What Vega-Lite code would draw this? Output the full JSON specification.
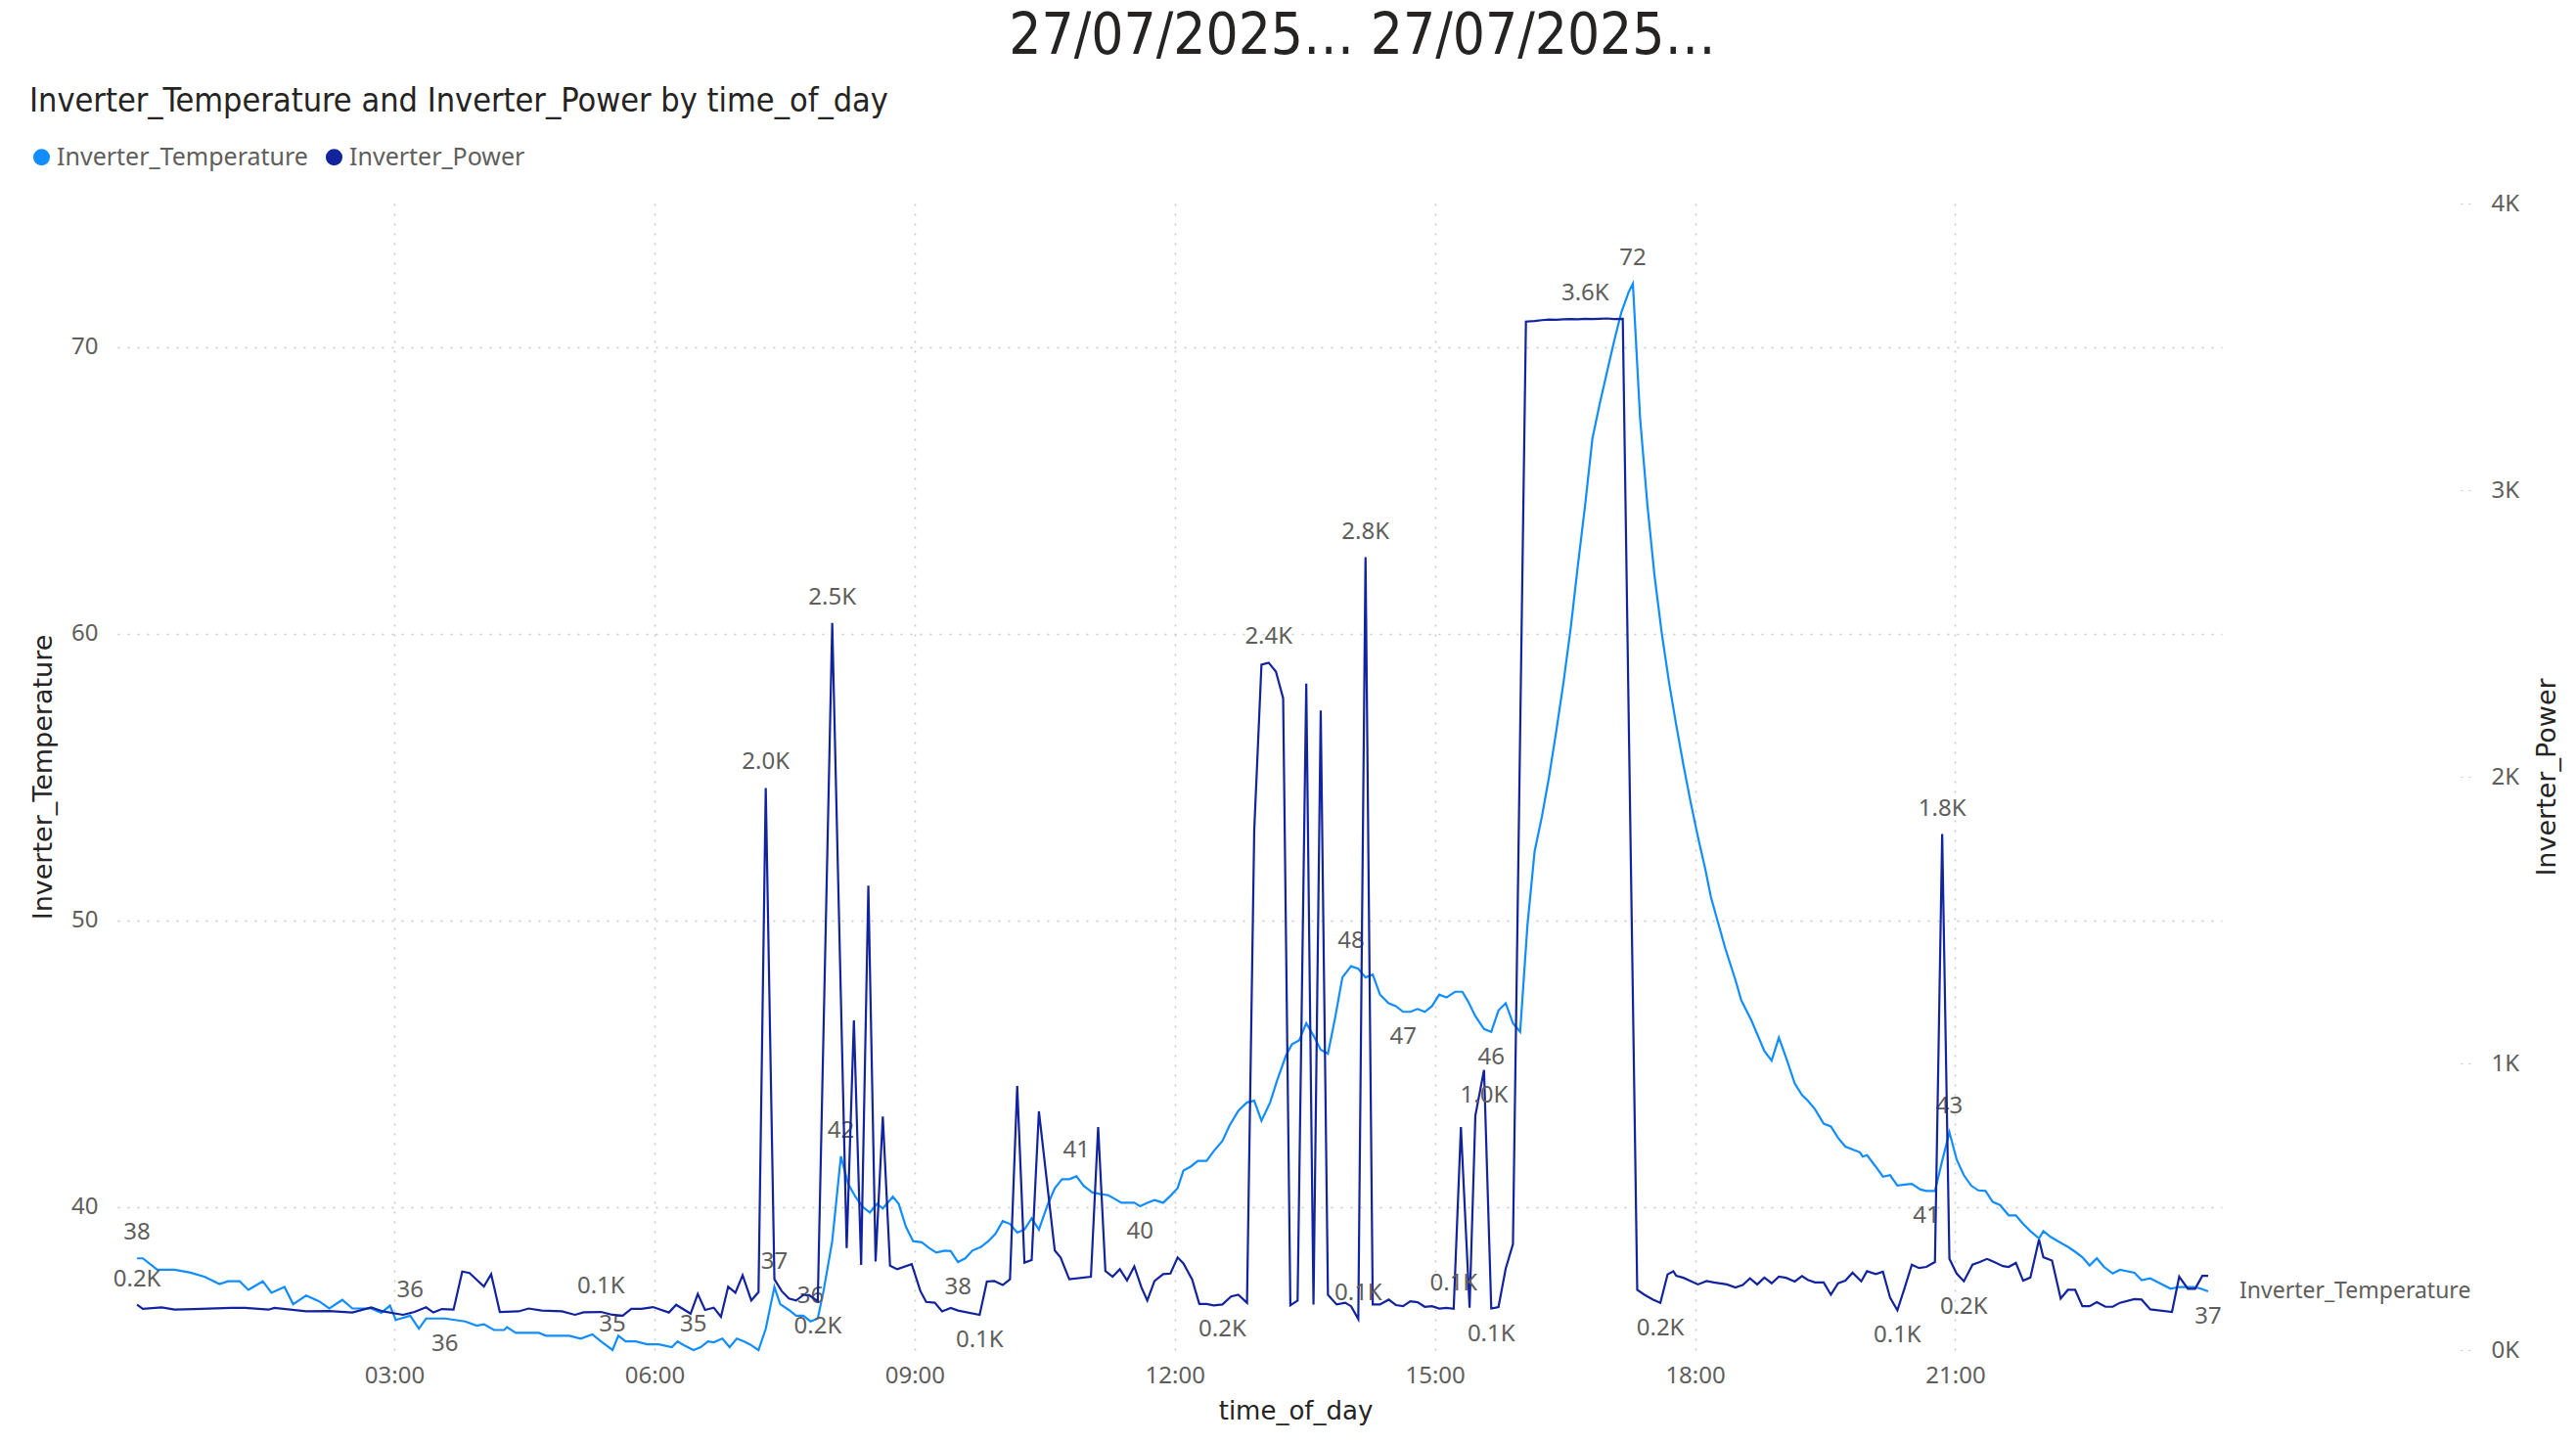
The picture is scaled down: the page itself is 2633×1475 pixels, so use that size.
{
  "$schema": "https://vega.github.io/schema/vega-lite/v6.json",
  "width": 2151,
  "height": 1172,
  "autosize": {"type": "none"},
  "padding": {"left": 120, "top": 208, "right": 362, "bottom": 95},
  "background": "white",
  "title": {
    "text": "27/07/2025… 27/07/2025…",
    "anchor": "middle",
    "frame": "group",
    "dx": 197,
    "offset": 0,
    "dy": -20,
    "font": "DejaVu Sans Condensed",
    "fontSize": 58,
    "fontWeight": "normal",
    "color": "#252423"
  },
  "config": {
    "view": {"stroke": null},
    "axis": {
      "domain": false,
      "ticks": false,
      "labelFont": "Noto Sans",
      "labelFontSize": 24,
      "labelColor": "#605E5C",
      "titleFont": "DejaVu Sans",
      "titleFontSize": 27,
      "titleFontWeight": "normal",
      "titleColor": "#252423",
      "gridColor": "#C8C8C8",
      "gridDash": [2, 8],
      "gridWidth": 1.5
    },
    "text": {"font": "Noto Sans", "fontSize": 24, "fill": "#605E5C"}
  },
  "datasets": {
    "temp": [
      {"t": "2025-07-27T00:02", "v": 38.2, "label": "38"},
      {"t": "2025-07-27T00:06", "v": 38.2},
      {"t": "2025-07-27T00:16", "v": 37.8},
      {"t": "2025-07-27T00:28", "v": 37.8},
      {"t": "2025-07-27T00:39", "v": 37.7},
      {"t": "2025-07-27T00:49", "v": 37.55},
      {"t": "2025-07-27T00:59", "v": 37.3},
      {"t": "2025-07-27T01:05", "v": 37.4},
      {"t": "2025-07-27T01:13", "v": 37.4},
      {"t": "2025-07-27T01:19", "v": 37.1},
      {"t": "2025-07-27T01:29", "v": 37.4},
      {"t": "2025-07-27T01:35", "v": 37.0},
      {"t": "2025-07-27T01:44", "v": 37.2},
      {"t": "2025-07-27T01:50", "v": 36.6},
      {"t": "2025-07-27T01:59", "v": 36.9},
      {"t": "2025-07-27T02:08", "v": 36.7},
      {"t": "2025-07-27T02:15", "v": 36.45},
      {"t": "2025-07-27T02:24", "v": 36.75},
      {"t": "2025-07-27T02:31", "v": 36.45},
      {"t": "2025-07-27T02:44", "v": 36.45},
      {"t": "2025-07-27T02:51", "v": 36.3},
      {"t": "2025-07-27T02:57", "v": 36.55},
      {"t": "2025-07-27T03:01", "v": 36.05},
      {"t": "2025-07-27T03:11", "v": 36.2, "label": "36"},
      {"t": "2025-07-27T03:17", "v": 35.75},
      {"t": "2025-07-27T03:22", "v": 36.1},
      {"t": "2025-07-27T03:35", "v": 36.1, "label": "36"},
      {"t": "2025-07-27T03:49", "v": 36.0},
      {"t": "2025-07-27T03:57", "v": 35.85},
      {"t": "2025-07-27T04:02", "v": 35.9},
      {"t": "2025-07-27T04:09", "v": 35.7},
      {"t": "2025-07-27T04:16", "v": 35.7},
      {"t": "2025-07-27T04:18", "v": 35.8},
      {"t": "2025-07-27T04:24", "v": 35.6},
      {"t": "2025-07-27T04:40", "v": 35.6},
      {"t": "2025-07-27T04:45", "v": 35.5},
      {"t": "2025-07-27T05:01", "v": 35.5},
      {"t": "2025-07-27T05:09", "v": 35.4},
      {"t": "2025-07-27T05:17", "v": 35.55},
      {"t": "2025-07-27T05:23", "v": 35.3},
      {"t": "2025-07-27T05:31", "v": 35.0, "label": "35"},
      {"t": "2025-07-27T05:35", "v": 35.5},
      {"t": "2025-07-27T05:40", "v": 35.3},
      {"t": "2025-07-27T05:47", "v": 35.3},
      {"t": "2025-07-27T05:55", "v": 35.2},
      {"t": "2025-07-27T06:03", "v": 35.2},
      {"t": "2025-07-27T06:12", "v": 35.1},
      {"t": "2025-07-27T06:16", "v": 35.3},
      {"t": "2025-07-27T06:21", "v": 35.15},
      {"t": "2025-07-27T06:27", "v": 35.0, "label": "35"},
      {"t": "2025-07-27T06:32", "v": 35.1},
      {"t": "2025-07-27T06:37", "v": 35.3},
      {"t": "2025-07-27T06:41", "v": 35.27},
      {"t": "2025-07-27T06:47", "v": 35.4},
      {"t": "2025-07-27T06:52", "v": 35.1},
      {"t": "2025-07-27T06:57", "v": 35.4},
      {"t": "2025-07-27T07:02", "v": 35.3},
      {"t": "2025-07-27T07:06", "v": 35.2},
      {"t": "2025-07-27T07:12", "v": 35.0},
      {"t": "2025-07-27T07:17", "v": 35.74},
      {"t": "2025-07-27T07:23", "v": 37.2, "label": "37"},
      {"t": "2025-07-27T07:27", "v": 36.6},
      {"t": "2025-07-27T07:33", "v": 36.4},
      {"t": "2025-07-27T07:38", "v": 36.2},
      {"t": "2025-07-27T07:43", "v": 36.2},
      {"t": "2025-07-27T07:48", "v": 36.0, "label": "36"},
      {"t": "2025-07-27T07:53", "v": 36.1},
      {"t": "2025-07-27T07:57", "v": 37.06},
      {"t": "2025-07-27T08:03", "v": 38.8},
      {"t": "2025-07-27T08:09", "v": 41.76, "label": "42"},
      {"t": "2025-07-27T08:14", "v": 40.8},
      {"t": "2025-07-27T08:19", "v": 40.35},
      {"t": "2025-07-27T08:24", "v": 40.0},
      {"t": "2025-07-27T08:29", "v": 39.8},
      {"t": "2025-07-27T08:34", "v": 40.1},
      {"t": "2025-07-27T08:38", "v": 39.94},
      {"t": "2025-07-27T08:45", "v": 40.35},
      {"t": "2025-07-27T08:49", "v": 40.1},
      {"t": "2025-07-27T08:54", "v": 39.3},
      {"t": "2025-07-27T08:59", "v": 38.8},
      {"t": "2025-07-27T09:05", "v": 38.76},
      {"t": "2025-07-27T09:10", "v": 38.56},
      {"t": "2025-07-27T09:15", "v": 38.4},
      {"t": "2025-07-27T09:21", "v": 38.47},
      {"t": "2025-07-27T09:25", "v": 38.45},
      {"t": "2025-07-27T09:30", "v": 38.07, "label": "38"},
      {"t": "2025-07-27T09:35", "v": 38.2},
      {"t": "2025-07-27T09:40", "v": 38.47},
      {"t": "2025-07-27T09:46", "v": 38.6},
      {"t": "2025-07-27T09:51", "v": 38.8},
      {"t": "2025-07-27T09:56", "v": 39.06},
      {"t": "2025-07-27T10:01", "v": 39.5},
      {"t": "2025-07-27T10:06", "v": 39.4},
      {"t": "2025-07-27T10:11", "v": 39.1},
      {"t": "2025-07-27T10:16", "v": 39.2},
      {"t": "2025-07-27T10:21", "v": 39.6},
      {"t": "2025-07-27T10:26", "v": 39.2},
      {"t": "2025-07-27T10:32", "v": 40.06},
      {"t": "2025-07-27T10:37", "v": 40.65},
      {"t": "2025-07-27T10:42", "v": 40.96},
      {"t": "2025-07-27T10:47", "v": 40.96},
      {"t": "2025-07-27T10:52", "v": 41.06, "label": "41"},
      {"t": "2025-07-27T10:57", "v": 40.73},
      {"t": "2025-07-27T11:03", "v": 40.5},
      {"t": "2025-07-27T11:08", "v": 40.45},
      {"t": "2025-07-27T11:14", "v": 40.4},
      {"t": "2025-07-27T11:19", "v": 40.26},
      {"t": "2025-07-27T11:23", "v": 40.14},
      {"t": "2025-07-27T11:32", "v": 40.14},
      {"t": "2025-07-27T11:36", "v": 40.02, "label": "40"},
      {"t": "2025-07-27T11:41", "v": 40.14},
      {"t": "2025-07-27T11:46", "v": 40.23},
      {"t": "2025-07-27T11:52", "v": 40.14},
      {"t": "2025-07-27T11:57", "v": 40.38},
      {"t": "2025-07-27T12:02", "v": 40.65},
      {"t": "2025-07-27T12:06", "v": 41.26},
      {"t": "2025-07-27T12:11", "v": 41.4},
      {"t": "2025-07-27T12:16", "v": 41.6},
      {"t": "2025-07-27T12:22", "v": 41.6},
      {"t": "2025-07-27T12:27", "v": 41.94},
      {"t": "2025-07-27T12:33", "v": 42.3},
      {"t": "2025-07-27T12:38", "v": 42.84},
      {"t": "2025-07-27T12:44", "v": 43.35},
      {"t": "2025-07-27T12:50", "v": 43.64},
      {"t": "2025-07-27T12:55", "v": 43.7},
      {"t": "2025-07-27T13:00", "v": 43.0},
      {"t": "2025-07-27T13:06", "v": 43.64},
      {"t": "2025-07-27T13:11", "v": 44.43},
      {"t": "2025-07-27T13:17", "v": 45.28},
      {"t": "2025-07-27T13:21", "v": 45.66},
      {"t": "2025-07-27T13:26", "v": 45.8},
      {"t": "2025-07-27T13:31", "v": 46.4},
      {"t": "2025-07-27T13:36", "v": 45.97},
      {"t": "2025-07-27T13:41", "v": 45.48},
      {"t": "2025-07-27T13:46", "v": 45.34},
      {"t": "2025-07-27T13:51", "v": 46.6},
      {"t": "2025-07-27T13:56", "v": 48.0},
      {"t": "2025-07-27T14:02", "v": 48.39, "label": "48"},
      {"t": "2025-07-27T14:07", "v": 48.3},
      {"t": "2025-07-27T14:12", "v": 48.0},
      {"t": "2025-07-27T14:17", "v": 48.1},
      {"t": "2025-07-27T14:22", "v": 47.4},
      {"t": "2025-07-27T14:28", "v": 47.1},
      {"t": "2025-07-27T14:33", "v": 47.0},
      {"t": "2025-07-27T14:38", "v": 46.8, "label": "47"},
      {"t": "2025-07-27T14:43", "v": 46.8},
      {"t": "2025-07-27T14:48", "v": 46.9},
      {"t": "2025-07-27T14:53", "v": 46.8},
      {"t": "2025-07-27T14:58", "v": 47.0},
      {"t": "2025-07-27T15:03", "v": 47.4},
      {"t": "2025-07-27T15:08", "v": 47.3},
      {"t": "2025-07-27T15:14", "v": 47.5},
      {"t": "2025-07-27T15:19", "v": 47.5},
      {"t": "2025-07-27T15:23", "v": 47.16},
      {"t": "2025-07-27T15:28", "v": 46.65},
      {"t": "2025-07-27T15:34", "v": 46.2},
      {"t": "2025-07-27T15:39", "v": 46.1, "label": "46"},
      {"t": "2025-07-27T15:44", "v": 46.85},
      {"t": "2025-07-27T15:49", "v": 47.1},
      {"t": "2025-07-27T15:54", "v": 46.4},
      {"t": "2025-07-27T15:59", "v": 46.1},
      {"t": "2025-07-27T16:04", "v": 49.8},
      {"t": "2025-07-27T16:09", "v": 52.4},
      {"t": "2025-07-27T16:14", "v": 53.6},
      {"t": "2025-07-27T16:19", "v": 55.0},
      {"t": "2025-07-27T16:24", "v": 56.6},
      {"t": "2025-07-27T16:29", "v": 58.3},
      {"t": "2025-07-27T16:34", "v": 60.2},
      {"t": "2025-07-27T16:39", "v": 62.4},
      {"t": "2025-07-27T16:44", "v": 64.5},
      {"t": "2025-07-27T16:49", "v": 66.8},
      {"t": "2025-07-27T16:54", "v": 68.0},
      {"t": "2025-07-27T16:59", "v": 69.1},
      {"t": "2025-07-27T17:04", "v": 70.2},
      {"t": "2025-07-27T17:09", "v": 71.2},
      {"t": "2025-07-27T17:14", "v": 71.9},
      {"t": "2025-07-27T17:17", "v": 72.2, "label": "72"},
      {"t": "2025-07-27T17:22", "v": 67.5},
      {"t": "2025-07-27T17:27", "v": 64.5},
      {"t": "2025-07-27T17:32", "v": 62.0},
      {"t": "2025-07-27T17:37", "v": 60.0},
      {"t": "2025-07-27T17:42", "v": 58.3},
      {"t": "2025-07-27T17:47", "v": 56.8},
      {"t": "2025-07-27T17:52", "v": 55.4},
      {"t": "2025-07-27T17:57", "v": 54.1},
      {"t": "2025-07-27T18:02", "v": 52.9},
      {"t": "2025-07-27T18:07", "v": 51.8},
      {"t": "2025-07-27T18:11", "v": 50.8},
      {"t": "2025-07-27T18:16", "v": 49.9},
      {"t": "2025-07-27T18:21", "v": 49.0},
      {"t": "2025-07-27T18:28", "v": 47.9},
      {"t": "2025-07-27T18:32", "v": 47.2},
      {"t": "2025-07-27T18:39", "v": 46.5},
      {"t": "2025-07-27T18:48", "v": 45.43},
      {"t": "2025-07-27T18:53", "v": 45.1},
      {"t": "2025-07-27T18:58", "v": 45.9},
      {"t": "2025-07-27T19:03", "v": 45.2},
      {"t": "2025-07-27T19:09", "v": 44.3},
      {"t": "2025-07-27T19:14", "v": 43.9},
      {"t": "2025-07-27T19:18", "v": 43.7},
      {"t": "2025-07-27T19:23", "v": 43.4},
      {"t": "2025-07-27T19:29", "v": 42.9},
      {"t": "2025-07-27T19:34", "v": 42.8},
      {"t": "2025-07-27T19:39", "v": 42.4},
      {"t": "2025-07-27T19:44", "v": 42.1},
      {"t": "2025-07-27T19:49", "v": 42.0},
      {"t": "2025-07-27T19:54", "v": 41.9},
      {"t": "2025-07-27T19:56", "v": 41.75},
      {"t": "2025-07-27T19:59", "v": 41.8},
      {"t": "2025-07-27T20:05", "v": 41.4},
      {"t": "2025-07-27T20:10", "v": 41.05},
      {"t": "2025-07-27T20:15", "v": 41.1},
      {"t": "2025-07-27T20:20", "v": 40.74},
      {"t": "2025-07-27T20:25", "v": 40.77},
      {"t": "2025-07-27T20:30", "v": 40.8},
      {"t": "2025-07-27T20:36", "v": 40.6},
      {"t": "2025-07-27T20:40", "v": 40.55, "label": "41"},
      {"t": "2025-07-27T20:46", "v": 40.55},
      {"t": "2025-07-27T20:51", "v": 41.6},
      {"t": "2025-07-27T20:56", "v": 42.6, "label": "43"},
      {"t": "2025-07-27T21:01", "v": 41.65},
      {"t": "2025-07-27T21:06", "v": 41.1},
      {"t": "2025-07-27T21:11", "v": 40.74},
      {"t": "2025-07-27T21:16", "v": 40.57},
      {"t": "2025-07-27T21:21", "v": 40.55},
      {"t": "2025-07-27T21:26", "v": 40.17},
      {"t": "2025-07-27T21:31", "v": 40.06},
      {"t": "2025-07-27T21:37", "v": 39.7},
      {"t": "2025-07-27T21:42", "v": 39.7},
      {"t": "2025-07-27T21:47", "v": 39.4},
      {"t": "2025-07-27T21:52", "v": 39.15},
      {"t": "2025-07-27T21:58", "v": 38.9},
      {"t": "2025-07-27T22:01", "v": 39.15},
      {"t": "2025-07-27T22:06", "v": 38.95},
      {"t": "2025-07-27T22:12", "v": 38.77},
      {"t": "2025-07-27T22:18", "v": 38.6},
      {"t": "2025-07-27T22:23", "v": 38.43},
      {"t": "2025-07-27T22:28", "v": 38.24},
      {"t": "2025-07-27T22:33", "v": 37.95},
      {"t": "2025-07-27T22:38", "v": 38.2},
      {"t": "2025-07-27T22:43", "v": 37.9},
      {"t": "2025-07-27T22:49", "v": 37.67},
      {"t": "2025-07-27T22:54", "v": 37.8},
      {"t": "2025-07-27T23:04", "v": 37.7},
      {"t": "2025-07-27T23:09", "v": 37.44},
      {"t": "2025-07-27T23:15", "v": 37.5},
      {"t": "2025-07-27T23:19", "v": 37.4},
      {"t": "2025-07-27T23:24", "v": 37.27},
      {"t": "2025-07-27T23:29", "v": 37.14},
      {"t": "2025-07-27T23:35", "v": 37.2},
      {"t": "2025-07-27T23:45", "v": 37.2},
      {"t": "2025-07-27T23:50", "v": 37.14},
      {"t": "2025-07-27T23:55", "v": 37.05, "label": "37"}
    ],
    "power": [
      {"t": "2025-07-27T00:02", "v": 158, "label": "0.2K"},
      {"t": "2025-07-27T00:06", "v": 144},
      {"t": "2025-07-27T00:19", "v": 149},
      {"t": "2025-07-27T00:28", "v": 141},
      {"t": "2025-07-27T00:41", "v": 143},
      {"t": "2025-07-27T01:07", "v": 147},
      {"t": "2025-07-27T01:17", "v": 147},
      {"t": "2025-07-27T01:33", "v": 141},
      {"t": "2025-07-27T01:37", "v": 147},
      {"t": "2025-07-27T01:59", "v": 135},
      {"t": "2025-07-27T02:15", "v": 136},
      {"t": "2025-07-27T02:31", "v": 131},
      {"t": "2025-07-27T02:44", "v": 149},
      {"t": "2025-07-27T02:52", "v": 135},
      {"t": "2025-07-27T03:06", "v": 123},
      {"t": "2025-07-27T03:14", "v": 133},
      {"t": "2025-07-27T03:22", "v": 149},
      {"t": "2025-07-27T03:27", "v": 131},
      {"t": "2025-07-27T03:33", "v": 143},
      {"t": "2025-07-27T03:41", "v": 141},
      {"t": "2025-07-27T03:47", "v": 274},
      {"t": "2025-07-27T03:52", "v": 269},
      {"t": "2025-07-27T04:02", "v": 222},
      {"t": "2025-07-27T04:07", "v": 265},
      {"t": "2025-07-27T04:13", "v": 133},
      {"t": "2025-07-27T04:26", "v": 135},
      {"t": "2025-07-27T04:33", "v": 145},
      {"t": "2025-07-27T04:42", "v": 138},
      {"t": "2025-07-27T04:56", "v": 135},
      {"t": "2025-07-27T05:05", "v": 123},
      {"t": "2025-07-27T05:11", "v": 132},
      {"t": "2025-07-27T05:23", "v": 133, "label": "0.1K"},
      {"t": "2025-07-27T05:31", "v": 123},
      {"t": "2025-07-27T05:38", "v": 120},
      {"t": "2025-07-27T05:44", "v": 144},
      {"t": "2025-07-27T05:51", "v": 144},
      {"t": "2025-07-27T05:59", "v": 150},
      {"t": "2025-07-27T06:10", "v": 131},
      {"t": "2025-07-27T06:15", "v": 158},
      {"t": "2025-07-27T06:25", "v": 127},
      {"t": "2025-07-27T06:30", "v": 196},
      {"t": "2025-07-27T06:35", "v": 140},
      {"t": "2025-07-27T06:41", "v": 148},
      {"t": "2025-07-27T06:46", "v": 116},
      {"t": "2025-07-27T06:51", "v": 221},
      {"t": "2025-07-27T06:56", "v": 200},
      {"t": "2025-07-27T07:01", "v": 261},
      {"t": "2025-07-27T07:07", "v": 173},
      {"t": "2025-07-27T07:12", "v": 202},
      {"t": "2025-07-27T07:17", "v": 1961, "label": "2.0K"},
      {"t": "2025-07-27T07:23", "v": 247},
      {"t": "2025-07-27T07:28", "v": 206},
      {"t": "2025-07-27T07:33", "v": 180},
      {"t": "2025-07-27T07:38", "v": 173},
      {"t": "2025-07-27T07:43", "v": 192},
      {"t": "2025-07-27T07:47", "v": 192},
      {"t": "2025-07-27T07:53", "v": 170, "label": "0.2K"},
      {"t": "2025-07-27T08:03", "v": 2537, "label": "2.5K"},
      {"t": "2025-07-27T08:13", "v": 356},
      {"t": "2025-07-27T08:18", "v": 1150},
      {"t": "2025-07-27T08:23", "v": 297},
      {"t": "2025-07-27T08:28", "v": 1620},
      {"t": "2025-07-27T08:33", "v": 309},
      {"t": "2025-07-27T08:38", "v": 815},
      {"t": "2025-07-27T08:43", "v": 294},
      {"t": "2025-07-27T08:48", "v": 282},
      {"t": "2025-07-27T08:58", "v": 300},
      {"t": "2025-07-27T09:04", "v": 206},
      {"t": "2025-07-27T09:08", "v": 168},
      {"t": "2025-07-27T09:14", "v": 165},
      {"t": "2025-07-27T09:19", "v": 135},
      {"t": "2025-07-27T09:25", "v": 147},
      {"t": "2025-07-27T09:30", "v": 138},
      {"t": "2025-07-27T09:45", "v": 123, "label": "0.1K"},
      {"t": "2025-07-27T09:50", "v": 239},
      {"t": "2025-07-27T09:55", "v": 241},
      {"t": "2025-07-27T10:01", "v": 227},
      {"t": "2025-07-27T10:06", "v": 247},
      {"t": "2025-07-27T10:11", "v": 921},
      {"t": "2025-07-27T10:16", "v": 305},
      {"t": "2025-07-27T10:21", "v": 314},
      {"t": "2025-07-27T10:26", "v": 833},
      {"t": "2025-07-27T10:37", "v": 347},
      {"t": "2025-07-27T10:41", "v": 323},
      {"t": "2025-07-27T10:47", "v": 247},
      {"t": "2025-07-27T11:02", "v": 256},
      {"t": "2025-07-27T11:07", "v": 778},
      {"t": "2025-07-27T11:12", "v": 276},
      {"t": "2025-07-27T11:17", "v": 256},
      {"t": "2025-07-27T11:22", "v": 282},
      {"t": "2025-07-27T11:27", "v": 243},
      {"t": "2025-07-27T11:32", "v": 292},
      {"t": "2025-07-27T11:37", "v": 218},
      {"t": "2025-07-27T11:41", "v": 173},
      {"t": "2025-07-27T11:46", "v": 241},
      {"t": "2025-07-27T11:52", "v": 265},
      {"t": "2025-07-27T11:57", "v": 267},
      {"t": "2025-07-27T12:02", "v": 323},
      {"t": "2025-07-27T12:06", "v": 302},
      {"t": "2025-07-27T12:12", "v": 247},
      {"t": "2025-07-27T12:17", "v": 161},
      {"t": "2025-07-27T12:22", "v": 161},
      {"t": "2025-07-27T12:27", "v": 156},
      {"t": "2025-07-27T12:33", "v": 159, "label": "0.2K"},
      {"t": "2025-07-27T12:39", "v": 187},
      {"t": "2025-07-27T12:44", "v": 193},
      {"t": "2025-07-27T12:50", "v": 165},
      {"t": "2025-07-27T12:55", "v": 1814},
      {"t": "2025-07-27T13:00", "v": 2391},
      {"t": "2025-07-27T13:05", "v": 2398, "label": "2.4K"},
      {"t": "2025-07-27T13:10", "v": 2367},
      {"t": "2025-07-27T13:15", "v": 2274},
      {"t": "2025-07-27T13:20", "v": 156},
      {"t": "2025-07-27T13:25", "v": 173},
      {"t": "2025-07-27T13:31", "v": 2325},
      {"t": "2025-07-27T13:36", "v": 159},
      {"t": "2025-07-27T13:41", "v": 2231},
      {"t": "2025-07-27T13:46", "v": 193},
      {"t": "2025-07-27T13:52", "v": 159},
      {"t": "2025-07-27T13:58", "v": 165},
      {"t": "2025-07-27T14:02", "v": 153},
      {"t": "2025-07-27T14:07", "v": 108, "label": "0.1K"},
      {"t": "2025-07-27T14:12", "v": 2766, "label": "2.8K"},
      {"t": "2025-07-27T14:17", "v": 159},
      {"t": "2025-07-27T14:22", "v": 159},
      {"t": "2025-07-27T14:28", "v": 176},
      {"t": "2025-07-27T14:33", "v": 157},
      {"t": "2025-07-27T14:38", "v": 153},
      {"t": "2025-07-27T14:43", "v": 170},
      {"t": "2025-07-27T14:48", "v": 167},
      {"t": "2025-07-27T14:53", "v": 151},
      {"t": "2025-07-27T14:58", "v": 153},
      {"t": "2025-07-27T15:03", "v": 145},
      {"t": "2025-07-27T15:08", "v": 147},
      {"t": "2025-07-27T15:13", "v": 144, "label": "0.1K"},
      {"t": "2025-07-27T15:18", "v": 778},
      {"t": "2025-07-27T15:24", "v": 148},
      {"t": "2025-07-27T15:28", "v": 818},
      {"t": "2025-07-27T15:34", "v": 977, "label": "1.0K"},
      {"t": "2025-07-27T15:39", "v": 145, "label": "0.1K"},
      {"t": "2025-07-27T15:44", "v": 150},
      {"t": "2025-07-27T15:49", "v": 284},
      {"t": "2025-07-27T15:54", "v": 369},
      {"t": "2025-07-27T16:03", "v": 3588},
      {"t": "2025-07-27T16:09", "v": 3590},
      {"t": "2025-07-27T16:14", "v": 3593},
      {"t": "2025-07-27T16:19", "v": 3595},
      {"t": "2025-07-27T16:24", "v": 3594},
      {"t": "2025-07-27T16:29", "v": 3596},
      {"t": "2025-07-27T16:34", "v": 3597},
      {"t": "2025-07-27T16:39", "v": 3596},
      {"t": "2025-07-27T16:44", "v": 3598, "label": "3.6K"},
      {"t": "2025-07-27T16:49", "v": 3597},
      {"t": "2025-07-27T16:54", "v": 3598},
      {"t": "2025-07-27T16:59", "v": 3599},
      {"t": "2025-07-27T17:04", "v": 3597},
      {"t": "2025-07-27T17:10", "v": 3598},
      {"t": "2025-07-27T17:20", "v": 210},
      {"t": "2025-07-27T17:25", "v": 193},
      {"t": "2025-07-27T17:31", "v": 176},
      {"t": "2025-07-27T17:36", "v": 165, "label": "0.2K"},
      {"t": "2025-07-27T17:41", "v": 264},
      {"t": "2025-07-27T17:45", "v": 275},
      {"t": "2025-07-27T17:47", "v": 259},
      {"t": "2025-07-27T17:52", "v": 252},
      {"t": "2025-07-27T17:57", "v": 241},
      {"t": "2025-07-27T18:02", "v": 229},
      {"t": "2025-07-27T18:08", "v": 241},
      {"t": "2025-07-27T18:13", "v": 236},
      {"t": "2025-07-27T18:22", "v": 229},
      {"t": "2025-07-27T18:28", "v": 218},
      {"t": "2025-07-27T18:33", "v": 227},
      {"t": "2025-07-27T18:38", "v": 250},
      {"t": "2025-07-27T18:43", "v": 229},
      {"t": "2025-07-27T18:48", "v": 253},
      {"t": "2025-07-27T18:53", "v": 233},
      {"t": "2025-07-27T18:58", "v": 256},
      {"t": "2025-07-27T19:03", "v": 252},
      {"t": "2025-07-27T19:09", "v": 239},
      {"t": "2025-07-27T19:14", "v": 258},
      {"t": "2025-07-27T19:18", "v": 245},
      {"t": "2025-07-27T19:23", "v": 236},
      {"t": "2025-07-27T19:29", "v": 236},
      {"t": "2025-07-27T19:34", "v": 193},
      {"t": "2025-07-27T19:39", "v": 233},
      {"t": "2025-07-27T19:44", "v": 242},
      {"t": "2025-07-27T19:49", "v": 270},
      {"t": "2025-07-27T19:55", "v": 240},
      {"t": "2025-07-27T19:59", "v": 275},
      {"t": "2025-07-27T20:05", "v": 265},
      {"t": "2025-07-27T20:10", "v": 273},
      {"t": "2025-07-27T20:15", "v": 182},
      {"t": "2025-07-27T20:20", "v": 139, "label": "0.1K"},
      {"t": "2025-07-27T20:25", "v": 216},
      {"t": "2025-07-27T20:30", "v": 298},
      {"t": "2025-07-27T20:35", "v": 286},
      {"t": "2025-07-27T20:40", "v": 290},
      {"t": "2025-07-27T20:46", "v": 307},
      {"t": "2025-07-27T20:51", "v": 1800, "label": "1.8K"},
      {"t": "2025-07-27T20:56", "v": 318},
      {"t": "2025-07-27T21:01", "v": 267},
      {"t": "2025-07-27T21:06", "v": 240, "label": "0.2K"},
      {"t": "2025-07-27T21:12", "v": 298},
      {"t": "2025-07-27T21:17", "v": 307},
      {"t": "2025-07-27T21:22", "v": 318},
      {"t": "2025-07-27T21:27", "v": 307},
      {"t": "2025-07-27T21:33", "v": 293},
      {"t": "2025-07-27T21:37", "v": 290},
      {"t": "2025-07-27T21:42", "v": 304},
      {"t": "2025-07-27T21:47", "v": 242},
      {"t": "2025-07-27T21:52", "v": 253},
      {"t": "2025-07-27T21:58", "v": 386},
      {"t": "2025-07-27T22:01", "v": 324},
      {"t": "2025-07-27T22:07", "v": 312},
      {"t": "2025-07-27T22:13", "v": 180},
      {"t": "2025-07-27T22:18", "v": 210},
      {"t": "2025-07-27T22:23", "v": 210},
      {"t": "2025-07-27T22:28", "v": 153},
      {"t": "2025-07-27T22:33", "v": 153},
      {"t": "2025-07-27T22:38", "v": 167},
      {"t": "2025-07-27T22:44", "v": 151},
      {"t": "2025-07-27T22:49", "v": 151},
      {"t": "2025-07-27T22:54", "v": 165},
      {"t": "2025-07-27T23:04", "v": 178},
      {"t": "2025-07-27T23:09", "v": 176},
      {"t": "2025-07-27T23:15", "v": 142},
      {"t": "2025-07-27T23:30", "v": 133},
      {"t": "2025-07-27T23:35", "v": 256},
      {"t": "2025-07-27T23:41", "v": 214},
      {"t": "2025-07-27T23:46", "v": 214},
      {"t": "2025-07-27T23:51", "v": 259},
      {"t": "2025-07-27T23:55", "v": 259}
    ]
  },
  "layer": [
    {
      "data": {"name": "temp"},
      "encoding": {
        "x": {
          "field": "t",
          "type": "temporal",
          "scale": {
            "domain": [
              {"year": 2025, "month": 7, "date": 26, "hours": 23, "minutes": 48, "seconds": 24},
              {"year": 2025, "month": 7, "date": 28, "hours": 0, "minutes": 4, "seconds": 30}
            ]
          },
          "axis": {
            "title": "time_of_day",
            "format": "%H:%M",
            "values": [
              {"year": 2025, "month": 7, "date": 27, "hours": 3},
              {"year": 2025, "month": 7, "date": 27, "hours": 6},
              {"year": 2025, "month": 7, "date": 27, "hours": 9},
              {"year": 2025, "month": 7, "date": 27, "hours": 12},
              {"year": 2025, "month": 7, "date": 27, "hours": 15},
              {"year": 2025, "month": 7, "date": 27, "hours": 18},
              {"year": 2025, "month": 7, "date": 27, "hours": 21}
            ],
            "grid": true,
            "labelPadding": 14,
            "titlePadding": 11,
            "titleFontSize": 26,
            "titleX": 1204,
            "titleAlign": "center"
          }
        },
        "y": {
          "field": "v",
          "type": "quantitative",
          "scale": {"domain": [35, 75], "nice": false, "zero": false},
          "axis": {
            "title": "Inverter_Temperature",
            "values": [40, 50, 60, 70],
            "grid": true,
            "labelPadding": 20,
            "titlePadding": 14
          }
        }
      },
      "layer": [
        {
          "mark": {"type": "line", "strokeWidth": 2.2},
          "encoding": {
            "color": {
              "datum": "Inverter_Temperature",
              "type": "nominal",
              "scale": {
                "domain": ["Inverter_Temperature", "Inverter_Power"],
                "range": ["#118DFF", "#12239E"]
              },
              "legend": {
                "orient": "none",
                "legendX": -90,
                "legendY": -121,
                "direction": "horizontal",
                "title": "Inverter_Temperature and Inverter_Power by time_of_day",
                "titleFont": "DejaVu Sans Condensed",
                "titleFontSize": 34,
                "titleFontWeight": "normal",
                "titleColor": "#252423",
                "titlePadding": 27,
                "titleLimit": 2000,
                "labelFont": "Noto Sans",
                "labelFontSize": 25,
                "labelColor": "#605E5C",
                "labelLimit": 1000,
                "labelOffset": 3,
                "columnPadding": 14,
                "symbolType": "circle",
                "symbolSize": 290,
                "encode": {
                  "symbols": {
                    "update": {
                      "fill": {"scale": "color", "field": "value"},
                      "fillOpacity": {"value": 1},
                      "strokeWidth": {"value": 0}
                    }
                  }
                }
              }
            }
          }
        },
        {
          "transform": [
            {"filter": "datum.label && indexof(['03:35','09:30','11:36','14:38','15:39','20:40','23:55'], timeFormat(datum.t, '%H:%M')) < 0"}
          ],
          "mark": {"type": "text", "baseline": "bottom", "dy": -14},
          "encoding": {"text": {"field": "label"}}
        },
        {
          "transform": [
            {"filter": "datum.label && indexof(['03:35','09:30','11:36','14:38','15:39','20:40','23:55'], timeFormat(datum.t, '%H:%M')) >= 0"}
          ],
          "mark": {"type": "text", "baseline": "top", "dy": 14},
          "encoding": {"text": {"field": "label"}}
        },
        {
          "transform": [
            {"filter": "timeFormat(datum.t, '%H:%M') == '23:55'"}
          ],
          "mark": {"type": "text", "align": "left", "baseline": "middle", "dx": 32, "fontSize": 23},
          "encoding": {"text": {"value": "Inverter_Temperature"}}
        }
      ]
    },
    {
      "data": {"name": "power"},
      "encoding": {
        "x": {
          "field": "t",
          "type": "temporal",
          "scale": {
            "domain": [
              {"year": 2025, "month": 7, "date": 26, "hours": 23, "minutes": 48, "seconds": 24},
              {"year": 2025, "month": 7, "date": 28, "hours": 0, "minutes": 4, "seconds": 30}
            ]
          },
          "axis": {
            "title": "time_of_day",
            "format": "%H:%M",
            "values": [
              {"year": 2025, "month": 7, "date": 27, "hours": 3},
              {"year": 2025, "month": 7, "date": 27, "hours": 6},
              {"year": 2025, "month": 7, "date": 27, "hours": 9},
              {"year": 2025, "month": 7, "date": 27, "hours": 12},
              {"year": 2025, "month": 7, "date": 27, "hours": 15},
              {"year": 2025, "month": 7, "date": 27, "hours": 18},
              {"year": 2025, "month": 7, "date": 27, "hours": 21}
            ],
            "grid": true,
            "labelPadding": 14,
            "titlePadding": 11,
            "titleFontSize": 26,
            "titleX": 1204,
            "titleAlign": "center"
          }
        },
        "y": {
          "field": "v",
          "type": "quantitative",
          "scale": {"domain": [0, 4000], "nice": false},
          "axis": {
            "orient": "right",
            "title": "Inverter_Power",
            "values": [0, 1000, 2000, 3000, 4000],
            "labelExpr": "datum.value / 1000 + 'K'",
            "grid": false,
            "ticks": true,
            "tickSize": 12,
            "tickDash": [2, 6],
            "tickColor": "#C8C8C8",
            "offset": 244,
            "labelPadding": 19,
            "titleAngle": 270,
            "titlePadding": 43
          }
        }
      },
      "layer": [
        {
          "mark": {"type": "line", "strokeWidth": 2.2},
          "encoding": {
            "color": {"datum": "Inverter_Power", "type": "nominal"}
          }
        },
        {
          "transform": [
            {"filter": "datum.label && indexof(['07:53','09:45','12:33','15:34','15:39','17:36','20:20','21:06'], timeFormat(datum.t, '%H:%M')) < 0"}
          ],
          "mark": {"type": "text", "baseline": "bottom", "dy": -14},
          "encoding": {"text": {"field": "label"}}
        },
        {
          "transform": [
            {"filter": "datum.label && indexof(['07:53','09:45','12:33','15:34','15:39','17:36','20:20','21:06'], timeFormat(datum.t, '%H:%M')) >= 0"}
          ],
          "mark": {"type": "text", "baseline": "top", "dy": 14},
          "encoding": {"text": {"field": "label"}}
        }
      ]
    }
  ],
  "resolve": {"scale": {"y": "independent"}}
}
